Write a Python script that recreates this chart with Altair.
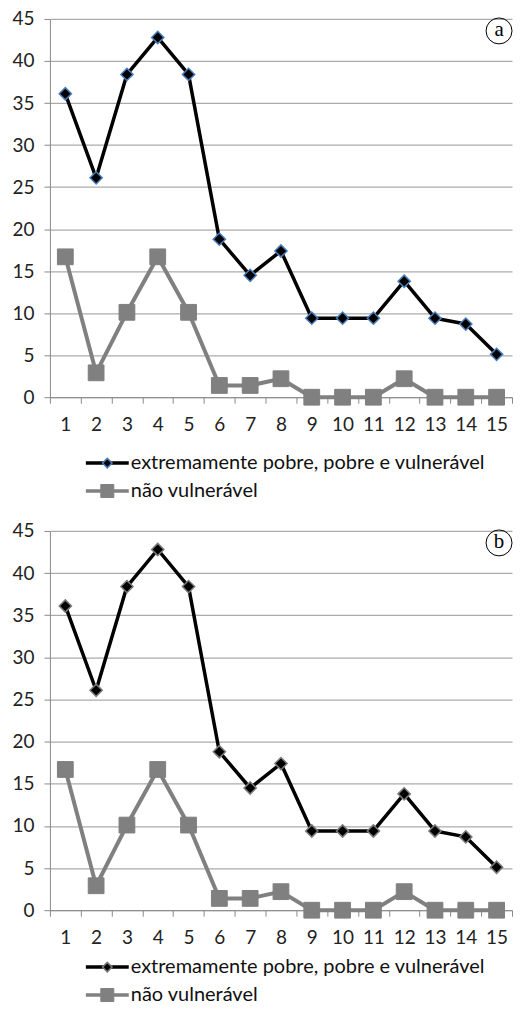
import altair as alt
import pandas as pd

categories = list(range(1, 16))
series_names = ["extremamente pobre, pobre e vulnerável", "não vulnerável"]
vulneravel = [36.1, 26.1, 38.4, 42.8, 38.4, 18.8, 14.5, 17.4, 9.4, 9.4, 9.4, 13.8, 9.4, 8.7, 5.1]
nao_vulneravel = [16.7, 2.9, 10.1, 16.7, 10.1, 1.4, 1.4, 2.2, 0.0, 0.0, 0.0, 2.2, 0.0, 0.0, 0.0]
y_ticks = list(range(0, 50, 5))
panel_labels = ["a", "b"]

df = pd.DataFrame({
    "cat": categories * 2,
    "value": vulneravel + nao_vulneravel,
    "series": [series_names[0]] * len(categories) + [series_names[1]] * len(categories),
})
legend_df = pd.DataFrame({"series": series_names})

FONT = "Lato"
FS = 19
W = 463
AXIS_GRAY = "#8a8a8a"
GRID_GRAY = "#ababab"
BLACK = "#000000"
GRAY = "#808080"


def plot_panel(label, marker_stroke, H):
    x = alt.X(
        "cat:O",
        scale=alt.Scale(type="band", paddingInner=0, paddingOuter=0),
        bandPosition=0.5,
        title=None,
        axis=alt.Axis(
            tickBand="extent", labelAngle=0, grid=False,
            domainColor=AXIS_GRAY, tickColor=AXIS_GRAY, tickSize=6,
            labelPadding=12, labelFont=FONT, labelFontSize=FS, labelColor="#222222",
        ),
    )
    y = alt.Y(
        "value:Q",
        scale=alt.Scale(domain=[0, 45], nice=False),
        title=None,
        axis=alt.Axis(
            values=y_ticks, grid=True, gridColor=GRID_GRAY, gridWidth=1.2,
            domainColor=AXIS_GRAY, tickColor=AXIS_GRAY, tickSize=6,
            labelPadding=10, labelFont=FONT, labelFontSize=FS, labelColor="#222222",
            minExtent=42, maxExtent=42,
        ),
    )
    base = alt.Chart(df)
    lines = base.mark_line(strokeJoin="round").encode(
        x=x, y=y,
        color=alt.Color("series:N", scale=alt.Scale(domain=series_names, range=[BLACK, GRAY]), legend=None),
        strokeWidth=alt.StrokeWidth("series:N", scale=alt.Scale(domain=series_names, range=[3.5, 4.0]), legend=None),
    )
    diamonds = base.transform_filter(alt.datum.series == series_names[0]).mark_point(
        shape="diamond", filled=True, fill=BLACK, stroke=marker_stroke, strokeWidth=1.5, size=150, opacity=1
    ).encode(x=x, y=y)
    squares = base.transform_filter(alt.datum.series == series_names[1]).mark_point(
        shape="square", filled=True, fill=GRAY, stroke=GRAY, strokeWidth=1, size=250, opacity=1
    ).encode(x=x, y=y)
    ann = alt.Chart(pd.DataFrame({"label": [label]}))
    circ = ann.mark_point(shape="circle", size=676, filled=False, stroke=BLACK, strokeWidth=1, opacity=1).encode(
        x=alt.value(W - 13), y=alt.value(12)
    )
    txt = ann.mark_text(font="Liberation Serif", fontSize=21, color=BLACK, baseline="middle", align="center").encode(
        x=alt.value(W - 13), y=alt.value(11), text="label:N"
    )
    return alt.layer(lines, diamonds, squares, circ, txt).properties(width=W, height=H)


def legend_panel(marker_stroke, rows, LH):
    ly = alt.Y("series:N", scale=alt.Scale(domain=series_names, range=rows), axis=None)
    lb = alt.Chart(legend_df)
    lrule = lb.mark_rule(strokeWidth=3.5).encode(
        x=alt.value(36), x2=alt.value(79), y=ly,
        color=alt.Color("series:N", scale=alt.Scale(domain=series_names, range=[BLACK, GRAY]), legend=None),
    )
    ldia = lb.transform_filter(alt.datum.series == series_names[0]).mark_point(
        shape="diamond", filled=True, fill=BLACK, stroke=marker_stroke, strokeWidth=1.5, size=90, opacity=1
    ).encode(x=alt.value(57.5), y=ly)
    lsq = lb.transform_filter(alt.datum.series == series_names[1]).mark_point(
        shape="square", filled=True, fill=GRAY, stroke=GRAY, strokeWidth=1, size=170, opacity=1
    ).encode(x=alt.value(57.5), y=ly)
    ltxt = lb.mark_text(font=FONT, fontSize=20, color="#111111", align="left", baseline="middle").encode(
        x=alt.value(81), y=ly, text="series:N"
    )
    return alt.layer(lrule, ldia, lsq, ltxt).properties(width=W, height=LH)


chart = alt.vconcat(
    plot_panel(panel_labels[0], "#4a7ebb", 379),
    legend_panel("#4a7ebb", [26, 82], 82),
    plot_panel(panel_labels[1], "#7a7a7a", 380),
    legend_panel("#7a7a7a", [17, 73], 66),
    spacing=26,
    bounds="flush",
).properties(
    padding={"left": 0, "top": 1, "right": 0, "bottom": 0},
    background="white",
).configure_view(stroke=None)

chart.save("out.html", embed_options={"renderer": "svg", "actions": False})
